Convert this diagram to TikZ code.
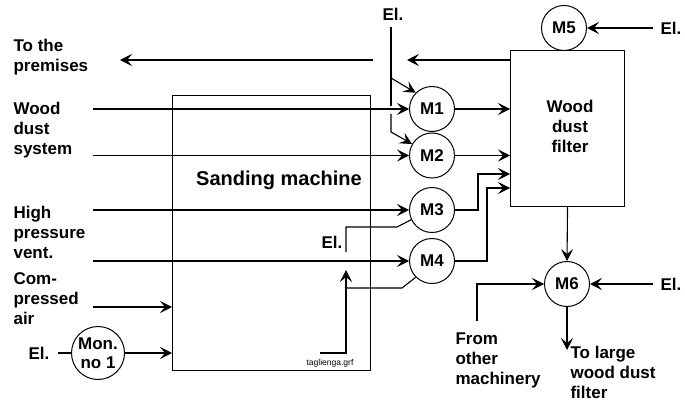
\documentclass[tikz,border=0pt]{standalone}
\usepackage{fontspec}
\setmainfont{Liberation Sans}
\usetikzlibrary{arrows.meta}
\begin{document}
\begin{tikzpicture}[x=1pt,y=-1pt,line width=1.1pt,
  >={Stealth[length=12pt,width=12pt,inset=5pt]},
  lbl/.style={font=\fontsize{17}{20}\selectfont\bfseries,inner sep=0pt,align=left},
  mot/.style={draw,circle,line width=1pt,minimum size=45pt,inner sep=0pt,font=\fontsize{17}{20}\selectfont\bfseries},
  box/.style={draw,anchor=north west,inner sep=0pt}]
\useasboundingbox (0,0) rectangle (685,401);
% boxes
\node[box,minimum width=198pt,minimum height=275pt] (S) at (172,95) {};
\node[font=\fontsize{20}{24}\selectfont\bfseries,inner sep=0pt] (Stxt) at (279,180) {Sanding machine};
\node[box,minimum width=114pt,minimum height=156pt] (F) at (510,50) {};
\node[lbl,align=center] (Ftxt) at (570,126) {Wood\\dust\\filter};
\node[font=\fontsize{8.5}{10}\selectfont,inner sep=0pt] (grf) at (330,363) {taglienga.grf};
% motors
\node[mot] (M1) at (432,109) {M1};
\node[mot] (M2) at (432,155.5) {M2};
\node[mot] (M3) at (432,210) {M3};
\node[mot] (M4) at (432,261) {M4};
\node[mot] (M5) at (564,28) {M5};
\node[mot] (M6) at (567,284) {M6};
\node[mot,minimum size=53pt,align=center,font=\fontsize{17}{20}\selectfont\bfseries] (Mon) at (98,353) {Mon.\\[-1pt]no 1};
% labels
\node[lbl,anchor=west] (Lprem) at (13,57) {To the\\premises};
\node[lbl,anchor=west] (Lwood) at (13,130) {Wood\\dust\\system};
\node[lbl,anchor=west] (Lhigh) at (13,232) {High\\pressure\\vent.};
\node[lbl,anchor=west] (Lcomp) at (13,299) {Com-\\pressed\\air};
\node[lbl,anchor=west] (LelMon) at (28,353) {El.};
\node[lbl] (LelTop) at (393,14) {El.};
\node[lbl] (LelM3) at (332,242) {El.};
\node[lbl,anchor=west] (LelM5) at (660,28) {El.};
\node[lbl,anchor=west] (LelM6) at (660,284) {El.};
\node[lbl,anchor=west] (Lother) at (455,360) {From\\other\\machinery};
\node[lbl,anchor=west] (Llarge) at (570,372) {To large\\wood dust\\filter};
% free-end coordinates
\coordinate (a1) at (93,109);
\coordinate (a2) at (93,155.5);
\coordinate (a3) at (93,210);
\coordinate (a4) at (93,261);
\coordinate (ca) at (93,307);
\coordinate (pr1) at (510,60);
\coordinate (pr2) at (407,60);
\coordinate (pr3) at (373,60);
\coordinate (pr4) at (120,60);
\coordinate (c3) at (478,174);
\coordinate (c4) at (487,188);
\coordinate (e1) at (391,27);
\coordinate (e2) at (391,106);
\coordinate (e3) at (391,114);
\coordinate (e4) at (391,132);
\coordinate (eb) at (391,78);
\coordinate (m3a) at (397,227);
\coordinate (m3b) at (346,227);
\coordinate (m3c) at (346,252);
\coordinate (m4a) at (402,288);
\coordinate (m4b) at (346,288);
\coordinate (up1) at (320,353);
\coordinate (up2) at (346,353);
\coordinate (up3) at (346,270);
\coordinate (el5) at (653,28);
\coordinate (el6) at (653,284);
\coordinate (oth) at (477,321);
\coordinate (dn) at (567,350);
\coordinate (elm) at (58,353);
% inputs through sanding machine
\draw[->] (a1) -- (M1.west);
\draw[->] (a2) -- (M2.west);
\draw[->] (a3) -- (M3.west);
\draw[->] (a4) -- (M4.west);
\draw[->] (ca) -- (ca -| S.west);
\draw (elm) -- (Mon.west);
\draw[->] (Mon.east) -- (Mon.east -| S.west);
% to the premises
\draw[->] (pr1) -- (pr2);
\draw[->] (pr3) -- (pr4);
% motors to filter
\draw[->] (M1.east) -- (M1.east -| F.west);
\draw[->] (M2.east) -- (M2.east -| F.west);
\draw[->] (M3.east) -| (c3) -- (c3 -| F.west);
\draw[->] (M4.east) -| (c4) -- (c4 -| F.west);
% electricity top
\draw (e1) -- (e2);
\draw[->] (e3) -- (e4) -- (M2.150);
\draw[->] (eb) -- (M1.135);
% M3 / M4 electricity
\draw (M3.205) -- (m3a) -- (m3b) -- (m3c);
\draw (M4.225) -- (m4a) -- (m4b);
\draw[->] (up1) -- (up2) -- (up3);
% M5, M6
\draw[->] (el5) -- (M5.east);
\draw[->] (F.south) -- (M6.north);
\draw[->] (el6) -- (M6.east);
\draw[->] (oth) |- (M6.west);
\draw[->] (M6.south) -- (dn);
\end{tikzpicture}
\end{document}
